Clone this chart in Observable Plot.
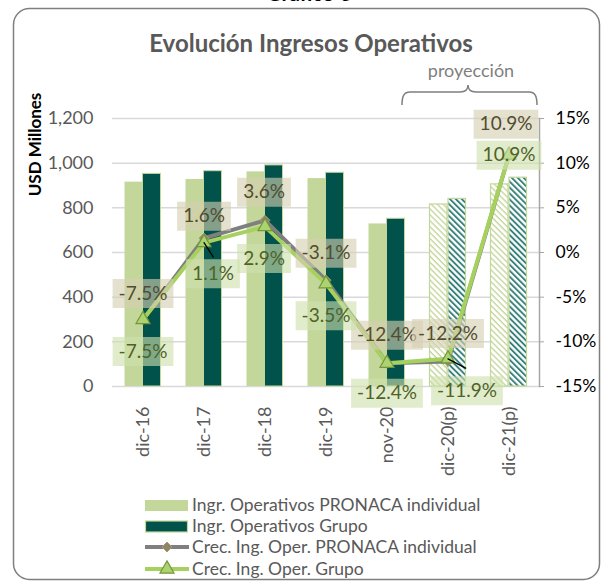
<!DOCTYPE html>
<html><head><meta charset="utf-8">
<script src="https://cdn.jsdelivr.net/npm/d3@7"></script>
<script src="https://cdn.jsdelivr.net/npm/@observablehq/plot@0.6"></script>
<style>
body{margin:0;background:#fff;font-family:Lato,sans-serif;}
#wrap{position:relative;width:606px;height:586px;overflow:hidden;background:#fff;}
.abs{position:absolute;white-space:nowrap;}
.leg{position:absolute;left:192px;font-size:17.5px;line-height:21px;color:#595959;white-space:nowrap;}
</style></head><body><div id="wrap"></div>
<script>
// ---- data ----
const categories = ["dic-16","dic-17","dic-18","dic-19","nov-20","dic-20(p)","dic-21(p)"];
const projected = [false,false,false,false,false,true,true];
const ingresosPronaca = [915, 927, 961, 931, 728, 815, 905];
const ingresosGrupo = [952, 964, 990, 957, 751, 840, 935];
const crecPronaca = [-7.5, 1.6, 3.6, -3.1, -12.4, -12.2, 10.9];
const crecGrupo = [-7.5, 1.1, 2.9, -3.5, -12.4, -11.9, 10.9];
const yTicks = [0, 200, 400, 600, 800, 1000, 1200];
const pctTicks = [-15, -10, -5, 0, 5, 10, 15];
const seriesNames = ["Ingr. Operativos PRONACA individual","Ingr. Operativos Grupo","Crec. Ing. Oper. PRONACA individual","Crec. Ing. Oper. Grupo"];

// label placement (pixel offsets from each point)
const offPronaca = [[0,-26],[0,-22],[-1,-28],[0,-27],[0,-28],[0,-28],[-3,-31]];
const offGrupo = [[0,32],[9,31],[-1,32],[0,32],[0,30],[19,32],[0,0]];
const leaders = [{i:1,len:17,rot:147},{i:5,len:20,rot:118}];

// ---- build ----
const pctToY = p => (p + 15) * 40;   // map % axis (-15..15) onto the 0..1200 scale
const fmtPct = p => p.toFixed(1) + "%";
const rows = categories.map((c,i)=>({cat:c, a:ingresosPronaca[i], g:ingresosGrupo[i], pa:crecPronaca[i], pg:crecGrupo[i], proj:projected[i]}));
const actual = rows.filter(d=>!d.proj), proj = rows.filter(d=>d.proj);

const LIGHT = "#c4d79b", DARK = "#00524a";
const LBL_FONT = 19;
const lineShape = {draw(context, l){ context.moveTo(0,0); context.lineTo(0,-l); }};
const mctx = document.createElement("canvas").getContext("2d");
mctx.font = `${LBL_FONT}px Lato`;
const boxSymbol = (w, h) => ({draw(c){ c.rect(-w/2, -h/2, w, h); }});

const labelMarks = [];
function addLabel(d, key, off, boxFill, textFill){
  const txt = fmtPct(d[key]);
  const w = mctx.measureText(txt).width + 12;
  labelMarks.push(Plot.dot([d], {x:"cat", y:r=>pctToY(r[key]), dx:off[0], dy:off[1], symbol: boxSymbol(w, 29), r: 5, fill: boxFill, fillOpacity: 0.62, stroke: "none"}));
  labelMarks.push(Plot.text([d], {x:"cat", y:r=>pctToY(r[key]), text:r=>fmtPct(r[key]), dx:off[0], dy:off[1], fill:textFill, fontSize:LBL_FONT}));
}
rows.forEach((d,i)=> addLabel(d, "pa", offPronaca[i], "#d5cfb2", "#524c30"));
rows.forEach((d,i)=> addLabel(d, "pg", offGrupo[i], "#cfe0ad", "#4f6228"));

const svg = Plot.plot({
  width: 606, height: 586,
  marginLeft: 112, marginRight: 67, marginTop: 118, marginBottom: 200,
  style: {fontFamily: "Lato, sans-serif", fontSize: "18px", background: "transparent", overflow: "visible"},
  x: {type: "band", domain: categories, padding: 0},
  y: {domain: [0, 1200]},
  marks: [
    Plot.gridY(yTicks, {stroke: "#d9d9d9", strokeOpacity: 1, strokeWidth: 1.5}),
    Plot.frame({anchor: "right", stroke: "#a6a6a6", strokeWidth: 1.5}),
    Plot.axisY({ticks: yTicks, tickFormat: d3.format(","), tickSize: 0, tickPadding: 19, fontSize: 18, color: "#595959", label: null}),
    Plot.axisY({anchor: "right", ticks: pctTicks.map(pctToY), tickFormat: d => `${d/40 - 15}%`, tickSize: 4, tickPadding: 12, fontSize: 17.5, color: "#000", stroke: "#a6a6a6", label: null}),
    Plot.axisX({tickRotate: -90, tickSize: 0, tickPadding: 20, fontSize: 18, color: "#595959", label: null}),
    Plot.text(["USD Millones"], {frameAnchor: "top-left", dx: -84, dy: 26, rotate: -90, fontWeight: "bold", fontSize: 17, fill: "#000", textAnchor: "middle"}),
    Plot.barY(actual, {x: "cat", y: "a", fill: LIGHT, insetLeft: 12.5, insetRight: 30.5}),
    Plot.barY(actual, {x: "cat", y: "g", fill: DARK, stroke: LIGHT, strokeWidth: 1, insetLeft: 30.5, insetRight: 12.5}),
    Plot.barY(proj, {x: "cat", y: "a", fill: "url(#hatchLight)", stroke: LIGHT, strokeWidth: 1.2, insetLeft: 12.5, insetRight: 31}),
    Plot.barY(proj, {x: "cat", y: "g", fill: "url(#hatchDark)", stroke: LIGHT, strokeWidth: 1.2, insetLeft: 31, insetRight: 12.5}),
    Plot.line(rows, {x: "cat", y: d => pctToY(d.pa), stroke: "#7f7f7f", strokeWidth: 4}),
    Plot.dot(rows, {x: "cat", y: d => pctToY(d.pa), symbol: "diamond2", r: 4.5, fill: "#8d8566", stroke: "#a59c72", strokeWidth: 1}),
    Plot.line(rows, {x: "cat", y: d => pctToY(d.pg), stroke: "#a6d15f", strokeWidth: 4}),
    Plot.dot(rows, {x: "cat", y: d => pctToY(d.pg), symbol: "triangle", r: 5.2, fill: "#a9d46f", stroke: "#77933c", strokeWidth: 1.2}),
    ...leaders.map(l => Plot.vector([rows[l.i]], {x: "cat", y: d => pctToY(d.pg), length: l.len, rotate: l.rot, anchor: "start", stroke: "#000", strokeWidth: 1.3, shape: lineShape})),
    ...labelMarks
  ]
});
svg.style.position = "absolute"; svg.style.left = "0"; svg.style.top = "0";

const wrap = document.getElementById("wrap");

// decoration layer (frame, bracket, legend swatches)
const deco = d3.create("svg").attr("width", 606).attr("height", 586).style("position", "absolute").style("left", 0).style("top", 0);
deco.append("rect").attr("x", 13.5).attr("y", 8.5).attr("width", 586).attr("height", 571).attr("rx", 16).attr("fill", "#fff").attr("stroke", "#7f7f7f").attr("stroke-width", 1.5);
deco.append("path").attr("d", "M402,105 C402,96 404,92 410,92 L460,92 C465,92 468,90 468,85 C468,90 471,92 476,92 L529,92 C535,92 537,96 537,105").attr("fill", "none").attr("stroke", "#7f7f7f").attr("stroke-width", 1.5);
// legend swatches
deco.append("rect").attr("x", 145).attr("y", 500).attr("width", 43).attr("height", 11).attr("fill", LIGHT);
deco.append("rect").attr("x", 145.5).attr("y", 521).attr("width", 42).attr("height", 11).attr("fill", DARK).attr("stroke", LIGHT).attr("stroke-width", 1.2);
deco.append("line").attr("x1", 145).attr("x2", 189).attr("y1", 547).attr("y2", 547).attr("stroke", "#7f7f7f").attr("stroke-width", 4);
deco.append("path").attr("d", d3.symbol(d3.symbolDiamond2, 4.5*4.5*Math.PI)()).attr("transform", "translate(167,547)").attr("fill", "#8d8566").attr("stroke", "#a59c72");
deco.append("line").attr("x1", 145).attr("x2", 189).attr("y1", 569).attr("y2", 569).attr("stroke", "#a6d15f").attr("stroke-width", 4);
deco.append("path").attr("d", d3.symbol(d3.symbolTriangle, 5.2*5.2*Math.PI)()).attr("transform", "translate(167,569)").attr("fill", "#a9d46f").attr("stroke", "#77933c").attr("stroke-width", 1.2);
wrap.appendChild(deco.node());

// hatch patterns used by the projected bars
const defs = d3.select(svg).insert("defs", ":first-child");
function hatch(id, color, w){
  const p = defs.append("pattern").attr("id", id).attr("patternUnits", "userSpaceOnUse").attr("width", 4.2).attr("height", 4.2).attr("patternTransform", "rotate(-45)");
  p.append("rect").attr("width", 4.2).attr("height", 4.2).attr("fill", "#fff");
  p.append("line").attr("x1", 1).attr("x2", 1).attr("y1", 0).attr("y2", 4.2).attr("stroke", color).attr("stroke-width", w);
}
hatch("hatchLight", LIGHT, 1.4);
hatch("hatchDark", "#2a7a73", 1.8);

wrap.appendChild(svg);

// texts
function addDiv(text, css){ const d = document.createElement("div"); d.className = "abs"; d.textContent = text; Object.assign(d.style, css); wrap.appendChild(d); return d; }
addDiv("Gráfico 6", {left: "309px", top: "-20px", transform: "translateX(-50%)", fontSize: "21px", fontWeight: "bold", color: "#000", lineHeight: "25px"});
addDiv("Evolución Ingresos Operativos", {left: "311px", top: "28px", transform: "translateX(-50%)", fontSize: "24px", fontWeight: "bold", color: "#595959", lineHeight: "29px"});
addDiv("proyección", {left: "471px", top: "59px", transform: "translateX(-50%)", fontSize: "18px", color: "#7f7f7f", lineHeight: "22px"});
const legTops = [493.5, 514.5, 535.5, 557.5];
seriesNames.forEach((n,i)=>{ const d = document.createElement("div"); d.className = "leg"; d.style.top = legTops[i] + "px"; d.textContent = n; wrap.appendChild(d); });
</script></body></html>
